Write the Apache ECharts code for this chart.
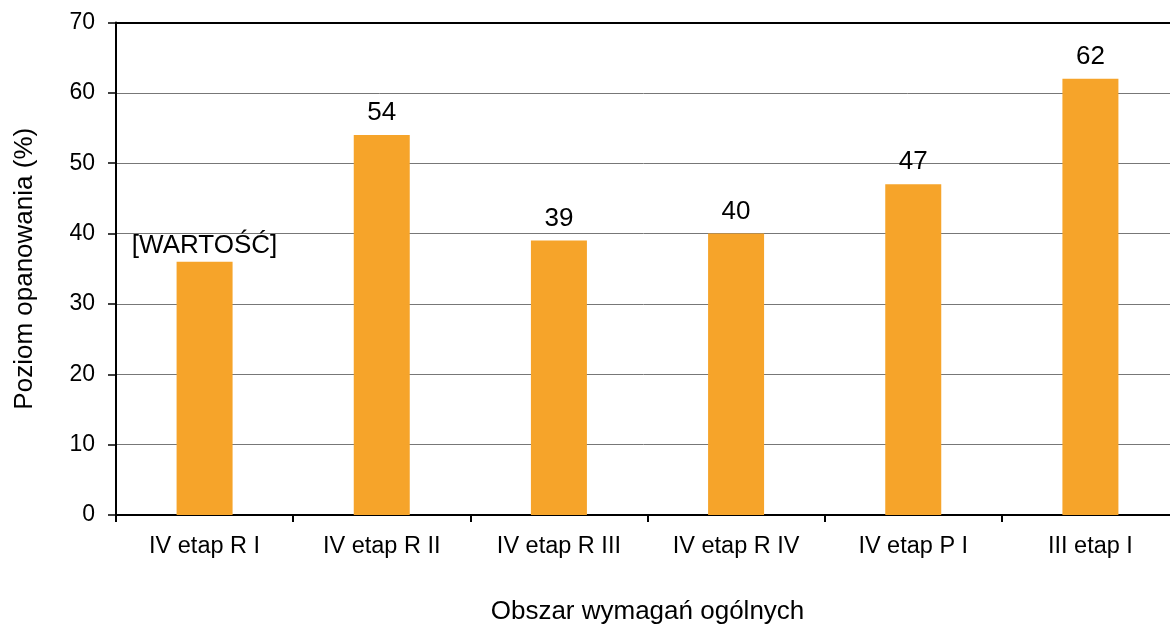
<!DOCTYPE html>
<html>
<head>
<meta charset="utf-8">
<script src="https://cdn.jsdelivr.net/npm/echarts@6/dist/echarts.min.js"></script>
<style>html,body{margin:0;padding:0;background:#fff}#c{width:1170px;height:628px}</style>
</head>
<body>
<div id="c"></div>
<script>
const categories = ['IV etap R I', 'IV etap R II', 'IV etap R III', 'IV etap R IV', 'IV etap P I', 'III etap I'];
const values = [36, 54, 39, 40, 47, 62];
const valueLabels = ['[WARTOŚĆ]', '54', '39', '40', '47', '62'];
const yTicks = [0, 10, 20, 30, 40, 50, 60, 70];
const xTitle = 'Obszar wymagań ogólnych';
const yTitle = 'Poziom opanowania (%)';

const font = 'Arial, "Liberation Sans", sans-serif';
const chart = echarts.init(document.getElementById('c'));
chart.setOption({
  animation: false,
  backgroundColor: '#fff',
  grid: { left: 116, top: 22.5, width: 1063, height: 492.5, containLabel: false, outerBoundsMode: 'none' },
  xAxis: [{
    type: 'category',
    data: categories,
    axisLine: { lineStyle: { color: '#000', width: 2 } },
    axisTick: { show: true, length: 7, lineStyle: { color: '#000', width: 2 } },
    axisLabel: { color: '#000', fontFamily: font, fontSize: 23.5, margin: 20 },
    name: xTitle,
    nameLocation: 'middle',
    nameGap: 84,
    nameTextStyle: { color: '#000', fontFamily: font, fontSize: 26 }
  }, {
    type: 'category',
    position: 'top',
    data: categories,
    axisLine: { show: true, lineStyle: { color: '#000', width: 2 } },
    axisTick: { show: false },
    axisLabel: { show: false }
  }],
  yAxis: {
    type: 'value',
    min: yTicks[0],
    max: yTicks[yTicks.length - 1],
    interval: 10,
    axisLine: { show: true, lineStyle: { color: '#000', width: 2 } },
    axisTick: { show: true, length: 8, lineStyle: { color: '#000', width: 1.5 } },
    axisLabel: { color: '#000', fontFamily: font, fontSize: 23, margin: 21 },
    splitLine: { show: true, lineStyle: { color: '#777', width: 1 } },
    name: yTitle,
    nameLocation: 'middle',
    nameGap: 78,
    nameTextStyle: { color: '#000', fontFamily: font, fontSize: 26 }
  },
  series: [{
    type: 'bar',
    xAxisIndex: 0,
    data: values.map((v, i) => i === 0 ? { value: v, label: { distance: 3 } } : v),
    barWidth: 56,
    itemStyle: { color: '#F6A42A' },
    label: {
      show: true,
      position: 'top',
      distance: 9,
      color: '#000',
      fontFamily: font,
      fontSize: 26,
      formatter: p => valueLabels[p.dataIndex]
    }
  }]
});
</script>
</body>
</html>
